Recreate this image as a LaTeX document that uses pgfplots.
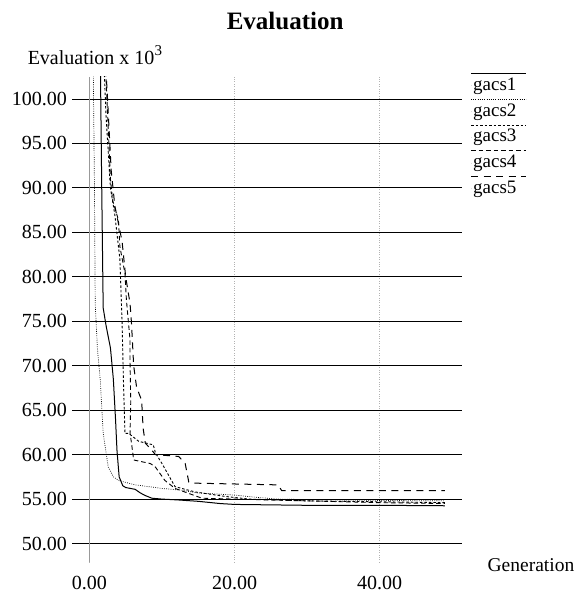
\documentclass[border=0pt]{standalone}
\usepackage{fontspec}
\setmainfont{Liberation Serif}
\usepackage{pgfplots}
\pgfplotsset{compat=1.18}

\begin{document}
\begin{tikzpicture}
\begin{axis}[
  scale only axis,
  width=390pt, height=485pt,
  xmin=-2.39, xmax=51.4, ymin=47.9, ymax=102.5,
  clip mode=individual,
  axis line style={draw=none},
  major tick length=0pt,
  xtick={0,20,40}, xticklabels={0.00,20.00,40.00},
  ytick={50,55,60,65,70,75,80,85,90,95,100},
  yticklabels={50.00,55.00,60.00,65.00,70.00,75.00,80.00,85.00,90.00,95.00,100.00},
  ticklabel style={font=\fontsize{20}{20}\selectfont},
  yticklabel style={anchor=east, inner sep=0pt, xshift=-5pt},
  xticklabel style={anchor=center, inner sep=0pt, yshift=-21pt},
  xmajorgrids, ymajorgrids,
  x grid style={gray!60, dotted, line width=0.6pt},
  y grid style={black, line width=0.9pt},
  legend style={at={(axis description cs:1.0205,0.999)}, anchor=north west,
    draw=none, fill=none, inner sep=0pt,
    font=\fontsize{19}{19}\selectfont,
    nodes={inner sep=0pt, text height=13pt, text depth=4pt},
    row sep=8.7pt, column sep=1.5pt},
  legend cell align=left,
  legend image code/.code={\draw[#1,overlay] (0pt,12.3pt) -- (55pt,12.3pt); \path (0pt,0pt) -- (0.01pt,0pt);},
]
\draw[gray!80, line width=0.6pt] (axis cs:0,47.9) -- (axis cs:0,102.5);

% gacs1
\addplot[black, line width=1pt] coordinates {
(0,160) (1.5,105) (1.7,90) (1.9,76.5) (2.3,74.5) (2.9,72) (3.3,68.5) (3.6,64)
(3.8,60.5) (4.1,57.5) (4.6,56.5) (5,56.3) (6.3,56.1) (7,55.7) (7.7,55.4)
(8.6,55.1) (10,55.0) (12.3,54.9) (15,54.75) (18,54.5) (20,54.4) (25,54.35)
(30,54.3) (40,54.3) (49,54.25)};
\addlegendentry{gacs1}

% gacs2
\addplot[black, line width=0.7pt, dash pattern=on 0.8pt off 1.4pt] coordinates {
(0,170) (0.55,102) (0.7,90) (0.8,77) (1.1,72) (1.5,68.4) (1.9,62.4) (2.6,58.6)
(3.3,57.5) (4,57.1) (6.3,56.6) (10,56.2) (12.7,56.0) (14.8,55.7) (20,55.45)
(23,55.2) (26,55.0) (30,54.95) (40,54.85) (49,54.8)};
\addlegendentry{gacs2}

% gacs3
\addplot[black, line width=0.9pt, dash pattern=on 2.5pt off 2pt] coordinates {
(0,200) (2.0,104) (2.3,98) (2.6,94) (2.9,90) (3.5,87) (4.2,82) (4.5,75)
(4.7,68) (4.9,62.4) (5.4,62.4) (6.8,61.5) (8.8,61.1) (9.1,60.2) (10,59)
(11.8,56.4) (14.6,55.8) (18.7,55.3) (22,55.0) (30,54.8) (40,54.7) (49,54.6)};
\addlegendentry{gacs3}

% gacs4
\addplot[black, line width=0.9pt, dash pattern=on 4.5pt off 3pt] coordinates {
(0,190) (2.2,104) (2.9,91) (3.2,88.6) (4.0,86.4) (4.2,83.4) (4.9,80.4)
(5.1,77.4) (5.6,72.9) (5.6,70.3) (5.7,66) (5.6,62.4) (5.8,61.3) (6.1,59.4)
(8.4,59.0) (9.1,58.6) (10.4,57.1) (11.8,56.2) (15.5,55.1) (20,55.0)
(30,54.8) (40,54.6) (49,54.5)};
\addlegendentry{gacs4}

% gacs5
\addplot[black, line width=1pt, dash pattern=on 7pt off 5.5pt] coordinates {
(0,185) (2.3,103) (2.5,100) (3.0,92) (3.5,88) (4.5,84) (5.0,80) (5.6,77)
(5.8,74.8) (6.1,70) (6.5,67.6) (7.2,66.1) (7.4,63) (7.7,61.3) (8.6,60.5)
(9.1,60.0) (12.3,59.8) (13.2,59) (13.7,56.9) (14.1,56.8) (20,56.7) (26,56.6)
(26.5,55.95) (49,55.95)};
\addlegendentry{gacs5}

\node[font=\bfseries\fontsize{25}{25}\selectfont] at (axis description cs:0.546,1.116) {Evaluation};
\node[anchor=west, inner sep=0pt, font=\fontsize{20}{20}\selectfont] at (axis description cs:-0.114,1.045)
  {Evaluation x 10\raisebox{0.45em}{\fontsize{15}{15}\selectfont 3}};
\node[anchor=west, inner sep=0pt, font=\fontsize{19.5}{20}\selectfont] at (axis description cs:1.064,-0.006) {Generation};
\path (axis description cs:-0.1846,-0.0696) rectangle (axis description cs:1.3205,1.1582);
\end{axis}
\end{tikzpicture}
\end{document}
